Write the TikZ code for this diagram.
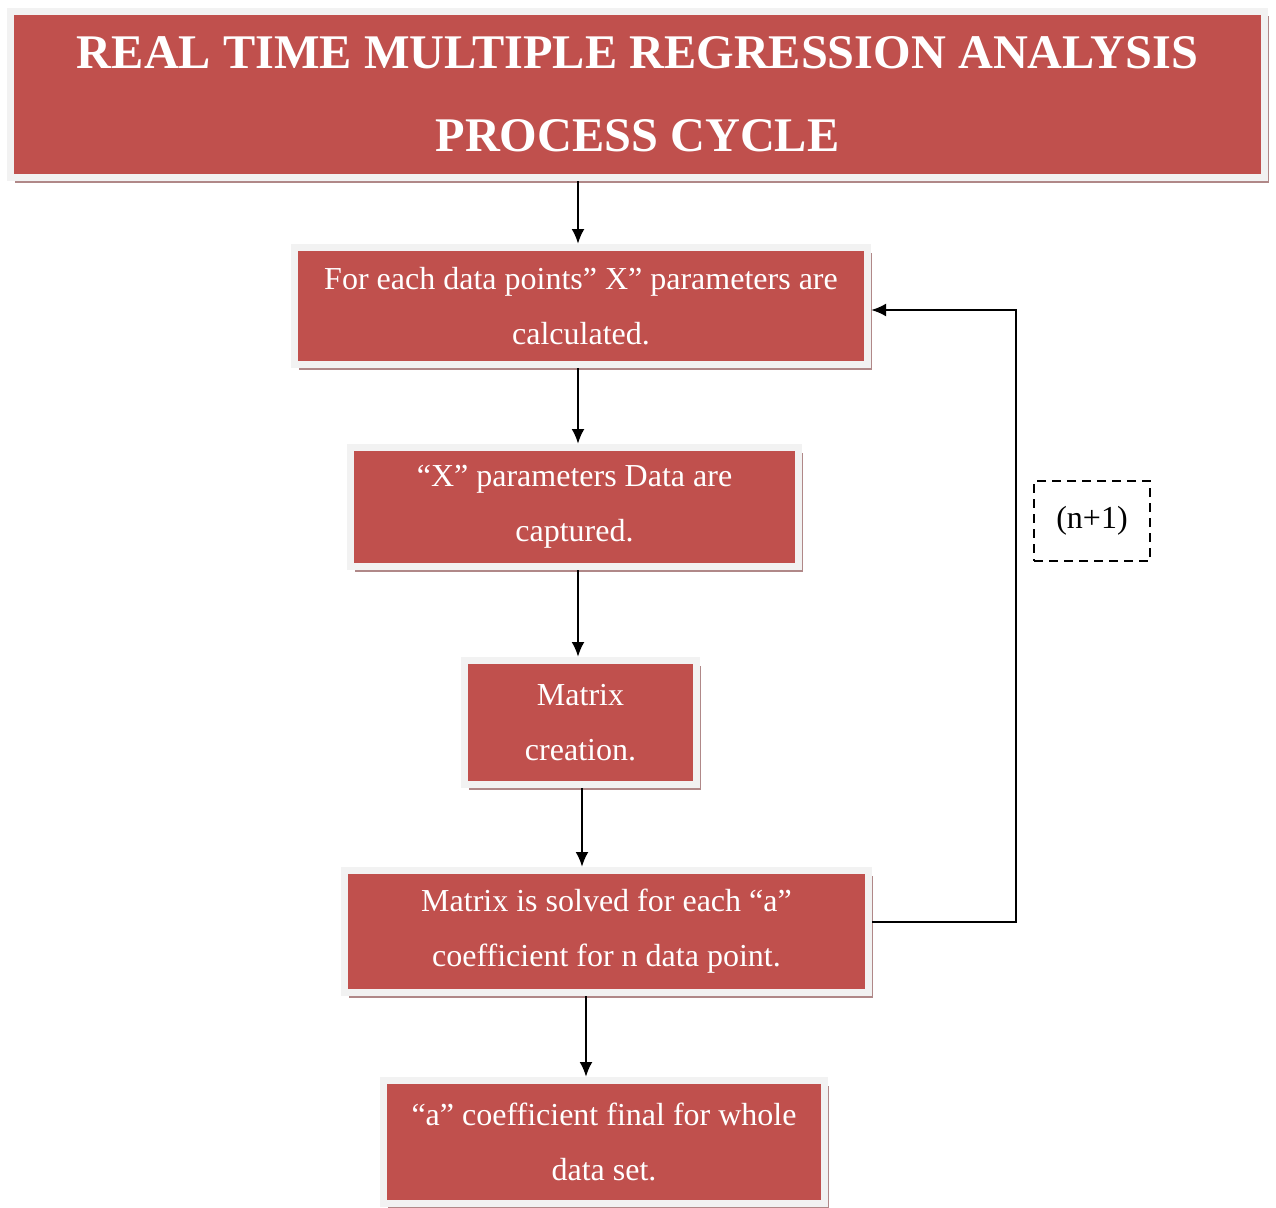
\documentclass[tikz,border=0pt]{standalone}
\usepackage{fontspec}
\setmainfont{Liberation Serif}
\usetikzlibrary{arrows.meta,shadows}
\definecolor{boxred}{HTML}{C0504D}
\definecolor{boxgray}{HTML}{F2F2F2}
\definecolor{shadowc}{HTML}{B08888}
\begin{document}
\begin{tikzpicture}[x=1pt,y=-1pt,
  redbox/.style={fill=boxred,draw=boxgray,line width=7pt,text=white,align=center,
    inner sep=0pt,
    drop shadow={shadow xshift=4pt,shadow yshift=-5pt,fill=shadowc,opacity=1},
    font=\fontsize{32}{55}\selectfont},
  titlebox/.style={redbox,font=\bfseries\fontsize{48.3}{83}\selectfont},
  arr/.style={line width=2.5pt,-{Latex[length=15pt,width=13pt]}}]
\useasboundingbox (0,0) rectangle (1276,1207);
\node[titlebox,minimum width=1254pt,minimum height=166pt] (title) at (637.5,94.5)
  {REAL TIME MULTIPLE REGRESSION ANALYSIS\\PROCESS CYCLE};
\node[redbox,minimum width=573pt,minimum height=117pt] (box1) at (581,306)
  {For each data points” X” parameters are\\calculated.};
\node[redbox,minimum width=448pt,minimum height=119pt] (box2) at (574.5,507)
  {“X” parameters Data are\\captured.};
\node[redbox,minimum width=232pt,minimum height=124pt] (box3) at (580.5,722.5)
  {Matrix\\creation.};
\node[redbox,minimum width=524pt,minimum height=122pt] (box4) at (606.5,931.5)
  {Matrix is solved for each “a”\\coefficient for n data point.};
\node[redbox,minimum width=441pt,minimum height=123pt] (box5) at (604,1142)
  {“a” coefficient final for whole\\data set.};
\node[draw,line width=2.5pt,dash pattern=on 9pt off 6pt,minimum width=116pt,
  minimum height=80pt,inner sep=0pt,font=\fontsize{32}{38}\selectfont] (nl) at (1092,521) {(n+1)};
\coordinate (lx) at (1016,600);
\draw[arr] ([xshift=-3pt]box1.north |- title.south) -- ([xshift=-3pt]box1.north);
\draw[arr] ([xshift=-3pt]box1.south) -- ([xshift=3.5pt]box2.north);
\draw[arr] ([xshift=3.5pt]box2.south) -- ([xshift=-2.5pt]box3.north);
\draw[arr] ([xshift=1.5pt]box3.south) -- ([xshift=-24.5pt]box4.north);
\draw[arr] ([xshift=-20.5pt]box4.south) -- ([xshift=-18pt]box5.north);
\draw[arr] ([yshift=9.5pt]box4.east) -| (lx) |- ([yshift=-4pt]box1.east);
\end{tikzpicture}
\end{document}
